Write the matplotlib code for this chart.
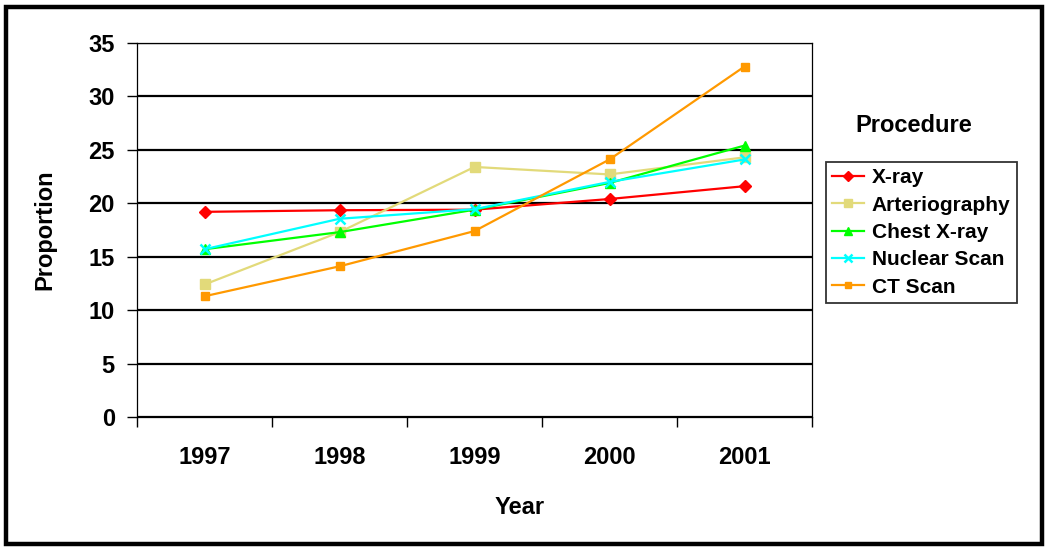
import matplotlib
matplotlib.use("Agg")
import matplotlib.pyplot as plt
from matplotlib.patches import Rectangle

plt.rcParams["font.family"] = ["Liberation Sans", "DejaVu Sans"]
plt.rcParams["font.weight"] = "bold"

# Data ------------------------------------------------------------------
years = ["1997", "1998", "1999", "2000", "2001"]
xray = [19.2, 19.35, 19.4, 20.4, 21.6]
arteriography = [12.4, 17.3, 23.4, 22.7, 24.3]
chest_xray = [15.7, 17.3, 19.4, 21.9, 25.4]
nuclear_scan = [15.7, 18.55, 19.45, 22.0, 24.1]
ct_scan = [11.3, 14.1, 17.4, 24.1, 32.8]
yticks = [0, 5, 10, 15, 20, 25, 30, 35]

series = [
    ("X-ray", xray, "#FF0000", "D", 6),
    ("Arteriography", arteriography, "#E2DA7A", "s", 7),
    ("Chest X-ray", chest_xray, "#00FF00", "^", 7),
    ("Nuclear Scan", nuclear_scan, "#00FFFF", "x", 7),
    ("CT Scan", ct_scan, "#FF9900", "s", 6),
]

W, H = 1050, 550
fig = plt.figure(figsize=(W / 100, H / 100), dpi=100)
ax = fig.add_axes([137 / W, 1 - 417 / H, (812 - 137) / W, (417 - 43) / H])

xs = list(range(len(years)))
for name, vals, color, marker, ms in series:
    ax.plot(xs, vals, color=color, lw=1.6, marker=marker, ms=ms,
            mew=1.8 if marker == "x" else 1.0, mec=color, mfc=color,
            label=name, zorder=3)

ax.set_xlim(-0.5, len(years) - 0.5)
ax.set_ylim(0, 35)
ax.set_yticks(yticks)
ax.set_xticks(xs)
ax.set_xticklabels(years)
ax.set_xticks([x - 0.5 for x in range(len(years) + 1)], minor=True)
ax.tick_params(axis="x", which="major", length=0, pad=21, labelsize=17)
ax.tick_params(axis="x", which="minor", length=7, width=1, direction="out")
ax.tick_params(axis="y", which="major", length=7, width=1, pad=9,
               labelsize=17, direction="out")
for lab in ax.get_xticklabels() + ax.get_yticklabels():
    lab.set_fontweight("bold")

ax.yaxis.grid(True, color="black", lw=1.6)
ax.set_axisbelow(True)
for sp in ax.spines.values():
    sp.set_linewidth(0.9)

fig.text(45 / W, 1 - 230 / H, "Proportion", rotation=90, ha="center",
         va="center", fontsize=17, fontweight="bold")
fig.text(520 / W, 1 - 507 / H, "Year", ha="center", va="center",
         fontsize=17, fontweight="bold")
fig.text(914 / W, 1 - 125 / H, "Procedure", ha="center", va="center",
         fontsize=17, fontweight="bold")

leg = ax.legend(loc="upper left", bbox_to_anchor=(826 / W, 1 - 162 / H),
                bbox_transform=fig.transFigure, fontsize=15, frameon=True,
                fancybox=False, edgecolor="black", handlelength=1.5,
                handletextpad=0.4, labelspacing=0.4, borderpad=0.3,
                borderaxespad=0, markerscale=0.8)
leg.get_frame().set_linewidth(1.3)
for t in leg.get_texts():
    t.set_fontweight("bold")

# Outer chart border
fig.patches.append(Rectangle((6 / W, 6 / H), (1042 - 6) / W, (543 - 6) / H,
                             transform=fig.transFigure, fill=False,
                             edgecolor="black", lw=3.2))

fig.savefig("out.png", dpi=100)
